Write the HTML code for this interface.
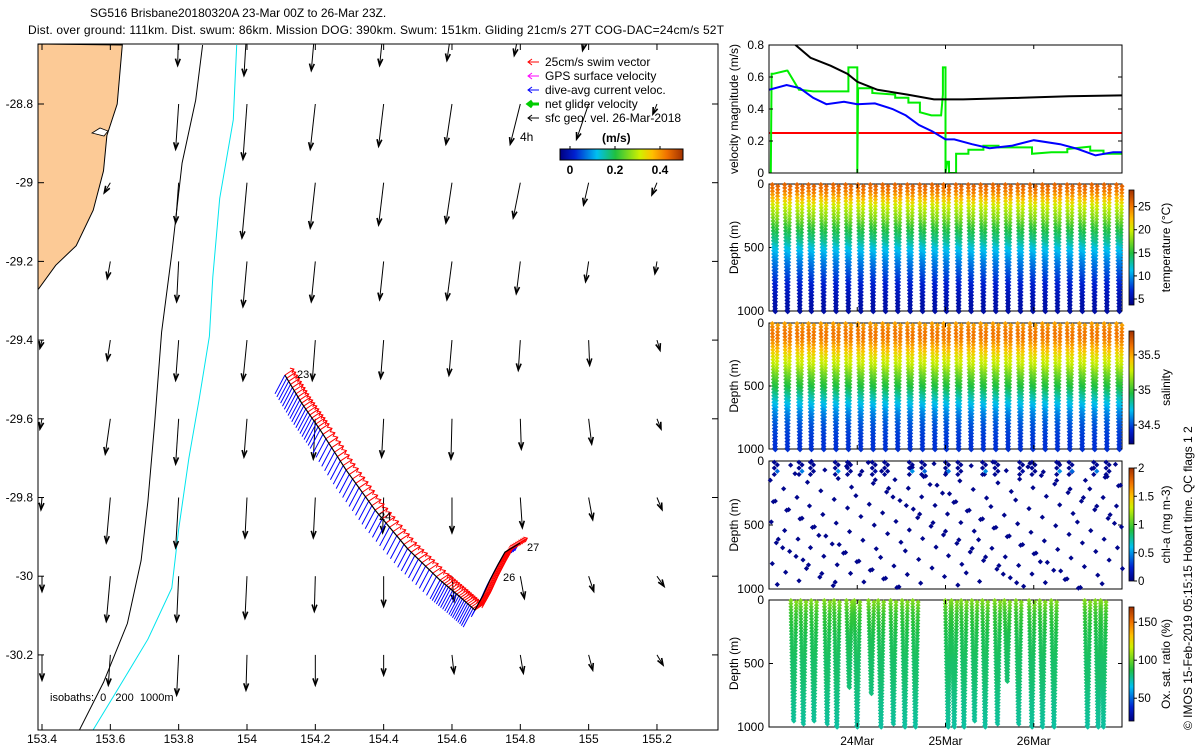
<!DOCTYPE html>
<html><head><meta charset="utf-8"><style>
html,body{margin:0;padding:0;background:#fff;}
svg{display:block;font-family:"Liberation Sans",sans-serif;}
</style></head><body>
<svg id="s" width="1200" height="750" viewBox="0 0 1200 750" xmlns="http://www.w3.org/2000/svg">
<defs>
<linearGradient id="jetH" x1="0" y1="0" x2="1" y2="0">
<stop offset="0" stop-color="#000080"/><stop offset="0.12" stop-color="#0020d0"/><stop offset="0.3" stop-color="#00c0f0"/><stop offset="0.45" stop-color="#20c040"/><stop offset="0.65" stop-color="#d0f000"/><stop offset="0.75" stop-color="#ffc000"/><stop offset="0.87" stop-color="#f07000"/><stop offset="1" stop-color="#a03000"/></linearGradient>
<linearGradient id="jetV" x1="0" y1="1" x2="0" y2="0">
<stop offset="0" stop-color="#000080"/><stop offset="0.12" stop-color="#0020d0"/><stop offset="0.3" stop-color="#00c0f0"/><stop offset="0.45" stop-color="#20c040"/><stop offset="0.65" stop-color="#d0f000"/><stop offset="0.75" stop-color="#ffc000"/><stop offset="0.87" stop-color="#f07000"/><stop offset="1" stop-color="#a03000"/></linearGradient>
<clipPath id="mapclip"><rect x="38" y="44" width="680" height="686"/></clipPath>
<clipPath id="velclip"><rect x="769" y="45" width="353" height="128"/></clipPath>
</defs>
<text x="90" y="17" font-size="12">SG516 Brisbane20180320A 23-Mar 00Z to 26-Mar 23Z.</text>
<text x="28" y="34" font-size="12" textLength="696">Dist. over ground: 111km. Dist. swum: 86km. Mission DOG: 390km. Swum: 151km. Gliding 21cm/s 27T COG-DAC=24cm/s 52T</text>
<g id="map"></g>
<g id="right"></g>
<text transform="translate(1192,730) rotate(-90)" font-size="12">© IMOS 15-Feb-2019 05:15:15 Hobart time. QC flags 1  2</text>
</svg>
<script>
// ---------- data ----------
const lonTicks=[153.4,153.6,153.8,154,154.2,154.4,154.6,154.8,155,155.2];
const latTicks=[-28.8,-29,-29.2,-29.4,-29.6,-29.8,-30,-30.2];
const vecLats=[-28.6,-28.8,-29.0,-29.2,-29.4,-29.6,-29.8,-30.0,-30.2];
const vecLons=[153.4,153.6,153.8,154.0,154.2,154.4,154.6,154.8,155.0,155.2];
const vecV=[
[null,0.10,0.40,0.50,0.45,0.40,0.35,0.30,0.25,0.15],
[null,null,0.45,0.55,0.45,0.42,0.40,0.40,0.35,0.10],
[null,0.10,0.40,0.55,0.45,0.42,0.40,0.35,0.22,0.12],
[null,0.17,0.40,0.45,0.40,0.38,0.38,0.32,0.20,0.12],
[0.08,0.20,0.40,0.40,0.40,0.38,0.35,0.30,0.25,0.10],
[0.10,0.35,0.45,0.38,0.40,0.38,0.40,0.30,0.25,0.10],
[0.12,0.45,0.50,0.40,0.40,0.35,0.35,0.30,0.22,0.12],
[0.15,0.45,0.45,0.42,0.35,0.30,0.25,0.22,0.15,0.10],
[0.25,0.30,0.40,0.35,0.30,0.20,0.18,0.18,0.15,0.10]];
const vecU=[
[null,-0.02,-0.01,-0.03,-0.04,-0.04,-0.05,-0.06,-0.06,-0.05],
[null,null,-0.03,-0.04,-0.05,-0.05,-0.06,-0.10,-0.12,-0.04],
[null,-0.06,-0.03,-0.05,-0.05,-0.05,-0.06,-0.07,-0.05,-0.05],
[null,-0.03,-0.02,-0.04,-0.04,-0.04,-0.05,-0.04,-0.03,-0.02],
[-0.02,-0.03,-0.03,-0.04,-0.03,-0.03,-0.03,-0.02,0.01,0.03],
[-0.02,-0.05,-0.03,-0.03,-0.02,-0.02,-0.01,0.01,0.03,0.04],
[-0.01,-0.04,-0.03,-0.02,-0.02,-0.01,0,0.02,0.04,0.05],
[0,-0.04,-0.02,-0.02,-0.01,0,0.02,0.04,0.05,0.07],
[0,-0.02,-0.02,-0.01,0,0,0.02,0.03,0.04,0.06]];
const trackLon=[154.111,154.16,154.214,154.29,154.375,154.47,154.565,154.62,154.667,154.69,154.711,154.735,154.755,154.799];
const trackLat=[-29.489,-29.56,-29.628,-29.73,-29.832,-29.93,-30.010,-30.05,-30.086,-30.05,-30.010,-29.97,-29.939,-29.916];
const coastLon=[153.635,153.62,153.59,153.58,153.55,153.5,153.44,153.39];
const coastLat=[-28.65,-28.8,-28.88,-28.97,-29.07,-29.16,-29.21,-29.27];
const iso200Lon=[153.87,153.85,153.81,153.78,153.75,153.73,153.71,153.69,153.65,153.58,153.51];
const iso200Lat=[-28.65,-28.79,-28.95,-29.18,-29.38,-29.61,-29.81,-29.96,-30.12,-30.27,-30.39];
const iso1000Lon=[153.97,153.96,153.92,153.9,153.89,153.86,153.83,153.8,153.78,153.71,153.62,153.55];
const iso1000Lat=[-28.65,-28.84,-29.04,-29.24,-29.39,-29.55,-29.7,-29.88,-30.03,-30.16,-30.29,-30.39];
// velocity time series
const blackT=[23.25,23.3,23.47,23.7,23.89,24.0,24.23,24.57,24.87,25.2,25.86,26.4,27.0];
const blackV=[0.82,0.8,0.72,0.67,0.62,0.57,0.52,0.49,0.46,0.46,0.47,0.48,0.485];
const blueT=[23.0,23.2,23.35,23.5,23.65,23.85,24.0,24.2,24.4,24.55,24.7,24.85,25.0,25.1,25.3,25.5,25.75,26.0,26.3,26.5,26.7,26.9,27.0];
const blueV=[0.52,0.55,0.53,0.47,0.43,0.445,0.43,0.435,0.40,0.36,0.30,0.26,0.21,0.21,0.18,0.155,0.17,0.205,0.18,0.15,0.11,0.13,0.13];
const greenT=[23.0,23.02,23.03,23.05,23.2,23.21,23.34,23.35,23.5,23.9,23.9,24.0,24.0,24.01,24.05,24.17,24.17,24.43,24.43,24.58,24.58,24.71,24.71,24.84,24.95,24.97,24.97,25.0,25.0,25.02,25.04,25.04,25.12,25.12,25.26,25.26,25.43,25.43,25.6,25.6,25.98,25.98,26.2,26.38,26.38,26.64,26.64,26.79,26.79,27.0];
const greenV=[0,0,0.62,0.62,0.64,0.64,0.52,0.52,0.51,0.51,0.66,0.66,0,0.53,0.53,0.53,0.50,0.49,0.47,0.47,0.44,0.44,0.38,0.36,0.36,0.49,0.66,0.66,0,0.07,0.07,0,0,0.12,0.12,0.145,0.145,0.17,0.17,0.16,0.16,0.12,0.13,0.13,0.15,0.165,0.14,0.14,0.12,0.12];
const swimV=[0.25,0.25];
const velTicks=[0,0.2,0.4,0.6,0.8];
// profiles
const diveT=[23.06,23.2,23.34,23.47,23.61,23.75,23.89,24.03,24.17,24.31,24.45,24.59,24.73,24.87,25.0,25.14,25.28,25.42,25.56,25.7,25.84,25.98,26.12,26.26,26.4,26.54,26.68,26.82,26.96];
const profDepth=[0,50,100,150,200,250,300,350,400,450,500,600,700,800,900,1000];
const tempProf=[26,25,23,20.5,19,18,16.5,15,14,13,11.5,9.5,8,6.5,5.5,5];
const salProf=[35.5,35.6,35.62,35.55,35.45,35.35,35.28,35.2,35.1,35.02,34.95,34.78,34.62,34.52,34.47,34.45];
const chlDepths=[150,300,450,600,750,900,240,520];
const chlSurf=[0.4,0.05,0.45,0.05,0.3,0.5,0.05,0.45,0.1,0.05,0.35,0.5];
const oxT=[23.27,23.38,23.5,23.65,23.76,23.9,23.99,24.15,24.26,24.4,24.53,24.65,25.02,25.09,25.2,25.32,25.44,25.58,25.69,25.82,25.97,26.09,26.22,26.6,26.72,26.78];
const oxMax=[960,980,960,980,1000,700,1000,730,1000,980,990,1000,1000,1000,1000,950,990,980,640,980,1000,1000,1000,1000,1000,990];
const oxProf=[105,98,92,90,88,86,85,84,84,83,82,82,80,78,77,75];
const dayTicks=[24,25,26];
const dayLabels=['24Mar','25Mar','26Mar'];

// ---------- helpers ----------
const svg=document.getElementById('s');
const NS='http://www.w3.org/2000/svg';
function mk(tag,attrs,parent){const e=document.createElementNS(NS,tag);for(const k in attrs)e.setAttribute(k,attrs[k]);(parent||svg).appendChild(e);return e;}
const cmPos=[0,0.12,0.3,0.45,0.65,0.75,0.87,1];
const cmR=[0,0,0,32,208,255,240,160],cmG=[0,32,192,192,240,192,112,48],cmB=[128,208,240,64,0,0,0,0];
function jet(f){f=Math.max(0,Math.min(1,f));return `rgb(${Math.round(interp(cmPos,cmR,f))},${Math.round(interp(cmPos,cmG,f))},${Math.round(interp(cmPos,cmB,f))})`;}
function interp(xs,ys,x){if(x<=xs[0])return ys[0];for(let i=1;i<xs.length;i++){if(x<=xs[i]){const f=(x-xs[i-1])/(xs[i]-xs[i-1]);return ys[i-1]+f*(ys[i]-ys[i-1]);}}return ys[ys.length-1];}
const map=document.getElementById('map');
const right=document.getElementById('right');
const mx=lon=>42+(lon-153.4)/0.2*68.33;
const my=lat=>104+(-28.8-lat)/0.2*78.7;

// ---------- map ----------
const mclip=mk('g',{'clip-path':'url(#mapclip)'},map);
let d='M38,44 ';coastLon.forEach((l,i)=>{d+='L'+mx(l).toFixed(1)+','+my(coastLat[i]).toFixed(1)+' ';});d+='L38,'+my(-29.27)+' Z';
let land=mk('path',{d:d,fill:'#fcca96',stroke:'#000','stroke-width':1},mclip);


mk('path',{d:'M92,133 L100,128 L108,131 L104,136 Z',fill:'#fff',stroke:'#000','stroke-width':0.8},mclip);
function line(lons,lats,color,name){let p='';lons.forEach((l,i)=>{p+=(i?'L':'M')+mx(l).toFixed(1)+','+my(lats[i]).toFixed(1);});const e=mk('path',{d:p,fill:'none',stroke:color,'stroke-width':1},mclip);return e;}
line(iso200Lon,iso200Lat,'#000','isobath-200m');
line(iso1000Lon,iso1000Lat,'#00e5ee','isobath-1000m');
// vectors
vecLats.forEach((lat,r)=>{vecLons.forEach((lon,c)=>{const v=vecV[r][c];if(v===null)return;const u=vecU[r][c];
 const x0=mx(lon),y0=my(lat),x1=x0+u*100,y1=y0+v*100;const ang=Math.atan2(y1-y0,x1-x0);const h=7;
 const g=mk('g',{},mclip);
 
 
 mk('line',{x1:x0,y1:y0,x2:x1,y2:y1,stroke:'#000','stroke-width':1},g);
 const a1=ang+Math.PI-0.35,a2=ang+Math.PI+0.35;
 mk('path',{d:`M${x1+h*Math.cos(a1)},${y1+h*Math.sin(a1)} L${x1},${y1} L${x1+h*Math.cos(a2)},${y1+h*Math.sin(a2)}`,fill:'none',stroke:'#000','stroke-width':1.6},g);
});});
// track with DAC (blue) and swim (red)
const tpts=[];for(let i=1;i<trackLon.length;i++){for(let k=0;k<9;k++){const f=k/9;tpts.push([mx(trackLon[i-1]+f*(trackLon[i]-trackLon[i-1])),my(trackLat[i-1]+f*(trackLat[i]-trackLat[i-1]))]);}}
const tg=mk('g',{},mclip);


tpts.forEach((p,i)=>{const bl=i<72?22:8;mk('line',{x1:p[0],y1:p[1],x2:p[0]-bl*0.45,y2:p[1]+bl*0.85,stroke:'#0000ff','stroke-width':1},tg);});
tpts.forEach((p,i)=>{const x1=p[0]+9,y1=p[1]-6;mk('line',{x1:p[0],y1:p[1],x2:x1,y2:y1,stroke:'#ff0000','stroke-width':1},tg);mk('path',{d:`M${x1-4},${y1-1} L${x1},${y1} L${x1-2},${y1+4}`,fill:'none',stroke:'#f00','stroke-width':1},tg);});
let tp='';trackLon.forEach((l,i)=>{tp+=(i?'L':'M')+mx(l)+','+my(trackLat[i]);});
mk('path',{d:tp,fill:'none',stroke:'#000','stroke-width':1.2},tg);
[['23',297,378],['24',379,520],['26',503,581],['27',527,551]].forEach(a=>{const t=mk('text',{x:a[1],y:a[2],'font-size':11},map);t.textContent=a[0];});
const iso=mk('text',{x:50,y:701,'font-size':11},map);iso.textContent='isobaths:\u00a0 0\u00a0\u00a0 200\u00a0 1000m';

// map frame + ticks
mk('rect',{x:38,y:44,width:680,height:686,fill:'none',stroke:'#000','stroke-width':1},map);
lonTicks.forEach(l=>{const x=mx(l);mk('line',{x1:x,y1:730,x2:x,y2:724,stroke:'#000'},map);mk('line',{x1:x,y1:44,x2:x,y2:50,stroke:'#000'},map);const t=mk('text',{x:x,y:743,'font-size':12,'text-anchor':'middle'},map);t.textContent=String(l);});
latTicks.forEach(l=>{const y=my(l);mk('line',{x1:38,y1:y,x2:44,y2:y,stroke:'#000'},map);mk('line',{x1:718,y1:y,x2:712,y2:y,stroke:'#000'},map);const t=mk('text',{x:33,y:y+4,'font-size':12,'text-anchor':'end'},map);t.textContent=String(l);});
// legend
const lg=mk('g',{},map);


[['25cm/s swim vector','#f00',1],['GPS surface velocity','#f0f',1],['dive-avg current veloc.','#00f',1],['net glider velocity','#0c0',3],['sfc geo. vel. 26-Mar-2018','#000',1]].forEach((e,i)=>{const y=66+i*14;mk('line',{x1:528,y1:y-4,x2:539,y2:y-4,stroke:e[1],'stroke-width':e[2]},lg);mk('path',{d:`M532,${y-7} L528,${y-4} L532,${y-1}`,fill:'none',stroke:e[1],'stroke-width':e[2]},lg);const t=mk('text',{x:545,y:y,'font-size':12},lg);t.textContent=e[0];});
const h4=mk('text',{x:520,y:141,'font-size':12},map);h4.textContent='4h';
const ms=mk('text',{x:602,y:142,'font-size':12,'font-weight':'bold'},map);ms.textContent='(m/s)';
const cb=mk('rect',{x:560,y:149,width:123,height:11,fill:'url(#jetH)',stroke:'#000','stroke-width':1},map);

[['0',570],['0.2',615],['0.4',660]].forEach(a=>{mk('line',{x1:a[1],y1:149,x2:a[1],y2:146,stroke:'#000'},map);const t=mk('text',{x:a[1],y:174,'font-size':12,'font-weight':'bold','text-anchor':'middle'},map);t.textContent=a[0];});

// ---------- right panels ----------
const X0=769,X1=1122;const tx=t=>X0+(t-23)*88.25;
function rot(x,y,txt,name){const t=mk('text',{transform:`translate(${x},${y}) rotate(-90)`,'font-size':12,'text-anchor':'middle'},right);t.textContent=txt;}
// velocity
const vy=v=>173-v*160;
const vg=mk('g',{'clip-path':'url(#velclip)'},right);


function series(ts,vs,color,w,name){let p='';ts.forEach((t,i)=>{p+=(i?'L':'M')+tx(t).toFixed(1)+','+vy(vs[i]).toFixed(1);});const e=mk('path',{d:p,fill:'none',stroke:color,'stroke-width':w},vg);}
series([23,27],swimV,'#ff0000',2,'swim-speed-line');
series(greenT,greenV,'#00ee00',2,'net-glider-velocity-line');
series(blackT,blackV,'#000',2,'geostrophic-speed-line');
series(blueT,blueV,'#0000ff',2,'dac-speed-line');
mk('rect',{x:X0,y:45,width:X1-X0,height:128,fill:'none',stroke:'#000'},right);
velTicks.forEach(v=>{const y=vy(v);mk('line',{x1:X0,y1:y,x2:X0+4,y2:y,stroke:'#000'},right);mk('line',{x1:X1,y1:y,x2:X1-4,y2:y,stroke:'#000'},right);const t=mk('text',{x:764,y:y+4,'font-size':12,'text-anchor':'end'},right);t.textContent=String(v);});
rot(738,109,'velocity magnitude (m/s)','velocity-y-title');
// profile panels
function panel(top,bot,name){mk('rect',{x:X0,y:top,width:X1-X0,height:bot-top,fill:'none',stroke:'#000'},right);
 [[0,'0'],[500,'500'],[1000,'1000']].forEach(a=>{const y=top+a[0]/1000*(bot-top);mk('line',{x1:X0,y1:y,x2:X0+4,y2:y,stroke:'#000'},right);mk('line',{x1:X1,y1:y,x2:X1-4,y2:y,stroke:'#000'},right);const t=mk('text',{x:764,y:y+4,'font-size':12,'text-anchor':'end'},right);t.textContent=a[1];});
 rot(738,(top+bot)/2,'Depth (m)',name+'-y-title');}
function cbar(top,bot,vmin,vmax,ticks,label,name){const r=mk('rect',{x:1129,y:top,width:5,height:bot-top,fill:'url(#jetV)',stroke:'#000','stroke-width':0.8},right);
 ticks.forEach(v=>{const y=bot-(v-vmin)/(vmax-vmin)*(bot-top);mk('line',{x1:1134,y1:y,x2:1137,y2:y,stroke:'#000'},right);const t=mk('text',{x:1138,y:y+4,'font-size':11.5},right);t.textContent=String(v);});
 rot(1170,(top+bot)/2,label,name+'-title');}
function dot(x,y,c,g){mk('path',{d:`M${x-2.6},${y} L${x},${y-2.6} L${x+2.6},${y} L${x},${y+2.6} Z`,fill:c},g);}
function dives(top,bot,times,maxd,prof,vmin,vmax,step,name){const g=mk('g',{},right);
 const dy=d=>top+d/1000*(bot-top);
 times.forEach((t,i)=>{const x0=tx(t)-3,md=maxd?maxd[i]:1000;for(let d=5;d<=md;d+=step){const c=jet((interp(profDepth,prof,d)-vmin)/(vmax-vmin));const f=d/md;dot(x0+1+f*2.5,dy(d),c,g);dot(x0+6.5-f*2.5,dy(d+step/2),c,g);}});}
// temperature
panel(184,311,'temperature');
dives(184,311,diveT,null,tempProf,3.7,28.6,26,'temperature-scatter');
cbar(190,305,3.7,28.6,[5,10,15,20,25],'temperature (°C)','temperature-colorbar');
// salinity
panel(323,449,'salinity');
dives(323,449,diveT,null,salProf,34.23,35.84,26,'salinity-scatter');
cbar(331,444,34.23,35.84,[34.5,35,35.5],'salinity','salinity-colorbar');
// chl
panel(461,589,'chl');
(function(){const g=mk('g',{},right);
 const dy=d=>461+d/1000*128;
 diveT.forEach((t,i)=>{chlDepths.forEach((d,k)=>{const dd=(d+i*67+k*13)%1000;dot(tx(t)-4+((k*5+i)%9),dy(dd),jet(0.02),g);});
  if(i%3!==1){[10,30,55,80,105].forEach((d,k)=>{const v=k===3?chlSurf[i%chlSurf.length]:0.05;dot(tx(t)+((k%2)*3),dy(d),jet(v/2),g);});}});})();
cbar(468,581,0,2,[0,0.5,1,1.5,2],'chl-a (mg m-3)','chl-colorbar');
// oxygen
panel(600,727,'oxygen');
dives(600,727,oxT,oxMax,oxProf,20,170,24,'oxygen-scatter');
cbar(607,721,20,170,[50,100,150],'Ox. sat. ratio (%)','oxygen-colorbar');
// time ticks
dayTicks.forEach((d,i)=>{const x=tx(d);[[45,173],[184,311],[323,449],[461,589],[600,727]].forEach(p=>{mk('line',{x1:x,y1:p[1],x2:x,y2:p[1]-4,stroke:'#000'},right);mk('line',{x1:x,y1:p[0],x2:x,y2:p[0]+4,stroke:'#000'},right);});const t=mk('text',{x:x,y:745,'font-size':12,'text-anchor':'middle'},right);t.textContent=dayLabels[i];});
</script>
</body></html>
